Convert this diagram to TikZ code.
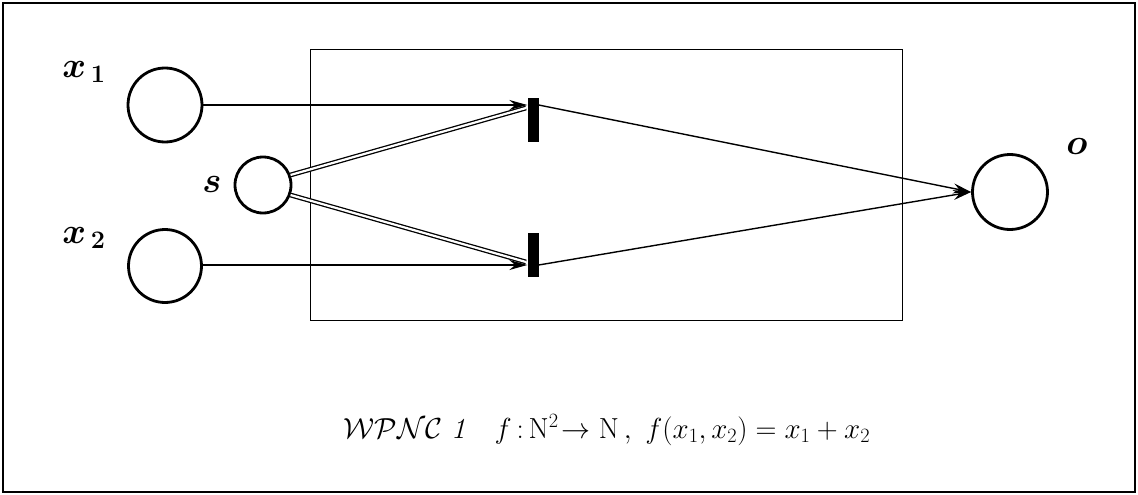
\RequirePackage{fix-cm}
\documentclass[tikz,border=0pt]{standalone}
\usepackage{amsmath,amssymb,bm}
\usetikzlibrary{arrows.meta}
\begin{document}
\begin{tikzpicture}[x=1pt,y=-1pt,
  place/.style={circle,draw,line width=2.8pt,inner sep=0pt},
  trans/.style={rectangle,fill=black,inner sep=0pt,minimum width=11pt,minimum height=44pt},
  arc/.style={line width=1.4pt,-{Stealth[length=18pt,width=10pt,inset=6pt]}},
  inh/.style={double,line width=1.3pt,double distance=2.2pt},
  lab/.style={font=\fontsize{36}{36}\selectfont\boldmath}]
\useasboundingbox (0,0) rectangle (1138,495);
\draw[line width=2pt] (3,3) rectangle (1135,492);
\draw[line width=1pt] (310,50) rectangle (902,320);
\node[place,minimum size=74pt] (x1) at (165,105) {};
\node[place,minimum size=73pt] (x2) at (165,266) {};
\node[place,minimum size=56pt] (s) at (263,185) {};
\node[place,minimum size=75pt] (o) at (1010,192) {};
\node[trans] (t1) at (533,120) {};
\node[trans] (t2) at (533,255) {};
\coordinate (t1in) at (t1.west |- 0,105);
\coordinate (t2in) at (t2.west |- 0,265);
\coordinate (t1out) at (t1.east |- 0,105);
\coordinate (t2out) at (t2.east |- 0,265);
\coordinate (t1s) at (526,108);
\coordinate (t2s) at (526,262);
\draw[arc] (x1.east |- t1in) -- (t1in);
\draw[arc] (x2.east |- t2in) -- (t2in);
\draw[inh] (s.20) -- (t1s);
\draw[inh] (s.-20) -- (t2s);
\draw[arc] (t1out) -- (o.west);
\draw[arc] (t2out) -- (o.west);
\node[lab] (lx1) at (84,72) {$x_{\,\mathbf{1}}$};
\node[lab] (lx2) at (84,238) {$x_{\,\mathbf{2}}$};
\node[lab] (ls) at (212,184) {$s$};
\node[lab] (lo) at (1077,146) {$o$};
\node[font=\fontsize{29}{29}\selectfont] (cap) at (607,430) {$\mathcal{WPNC}$ \textit{1}\quad $f\,{:}\,\mathrm{N}^2\!\to\mathrm{N}\,,\ f(x_1,x_2)=x_1+x_2$};
\end{tikzpicture}
\end{document}
